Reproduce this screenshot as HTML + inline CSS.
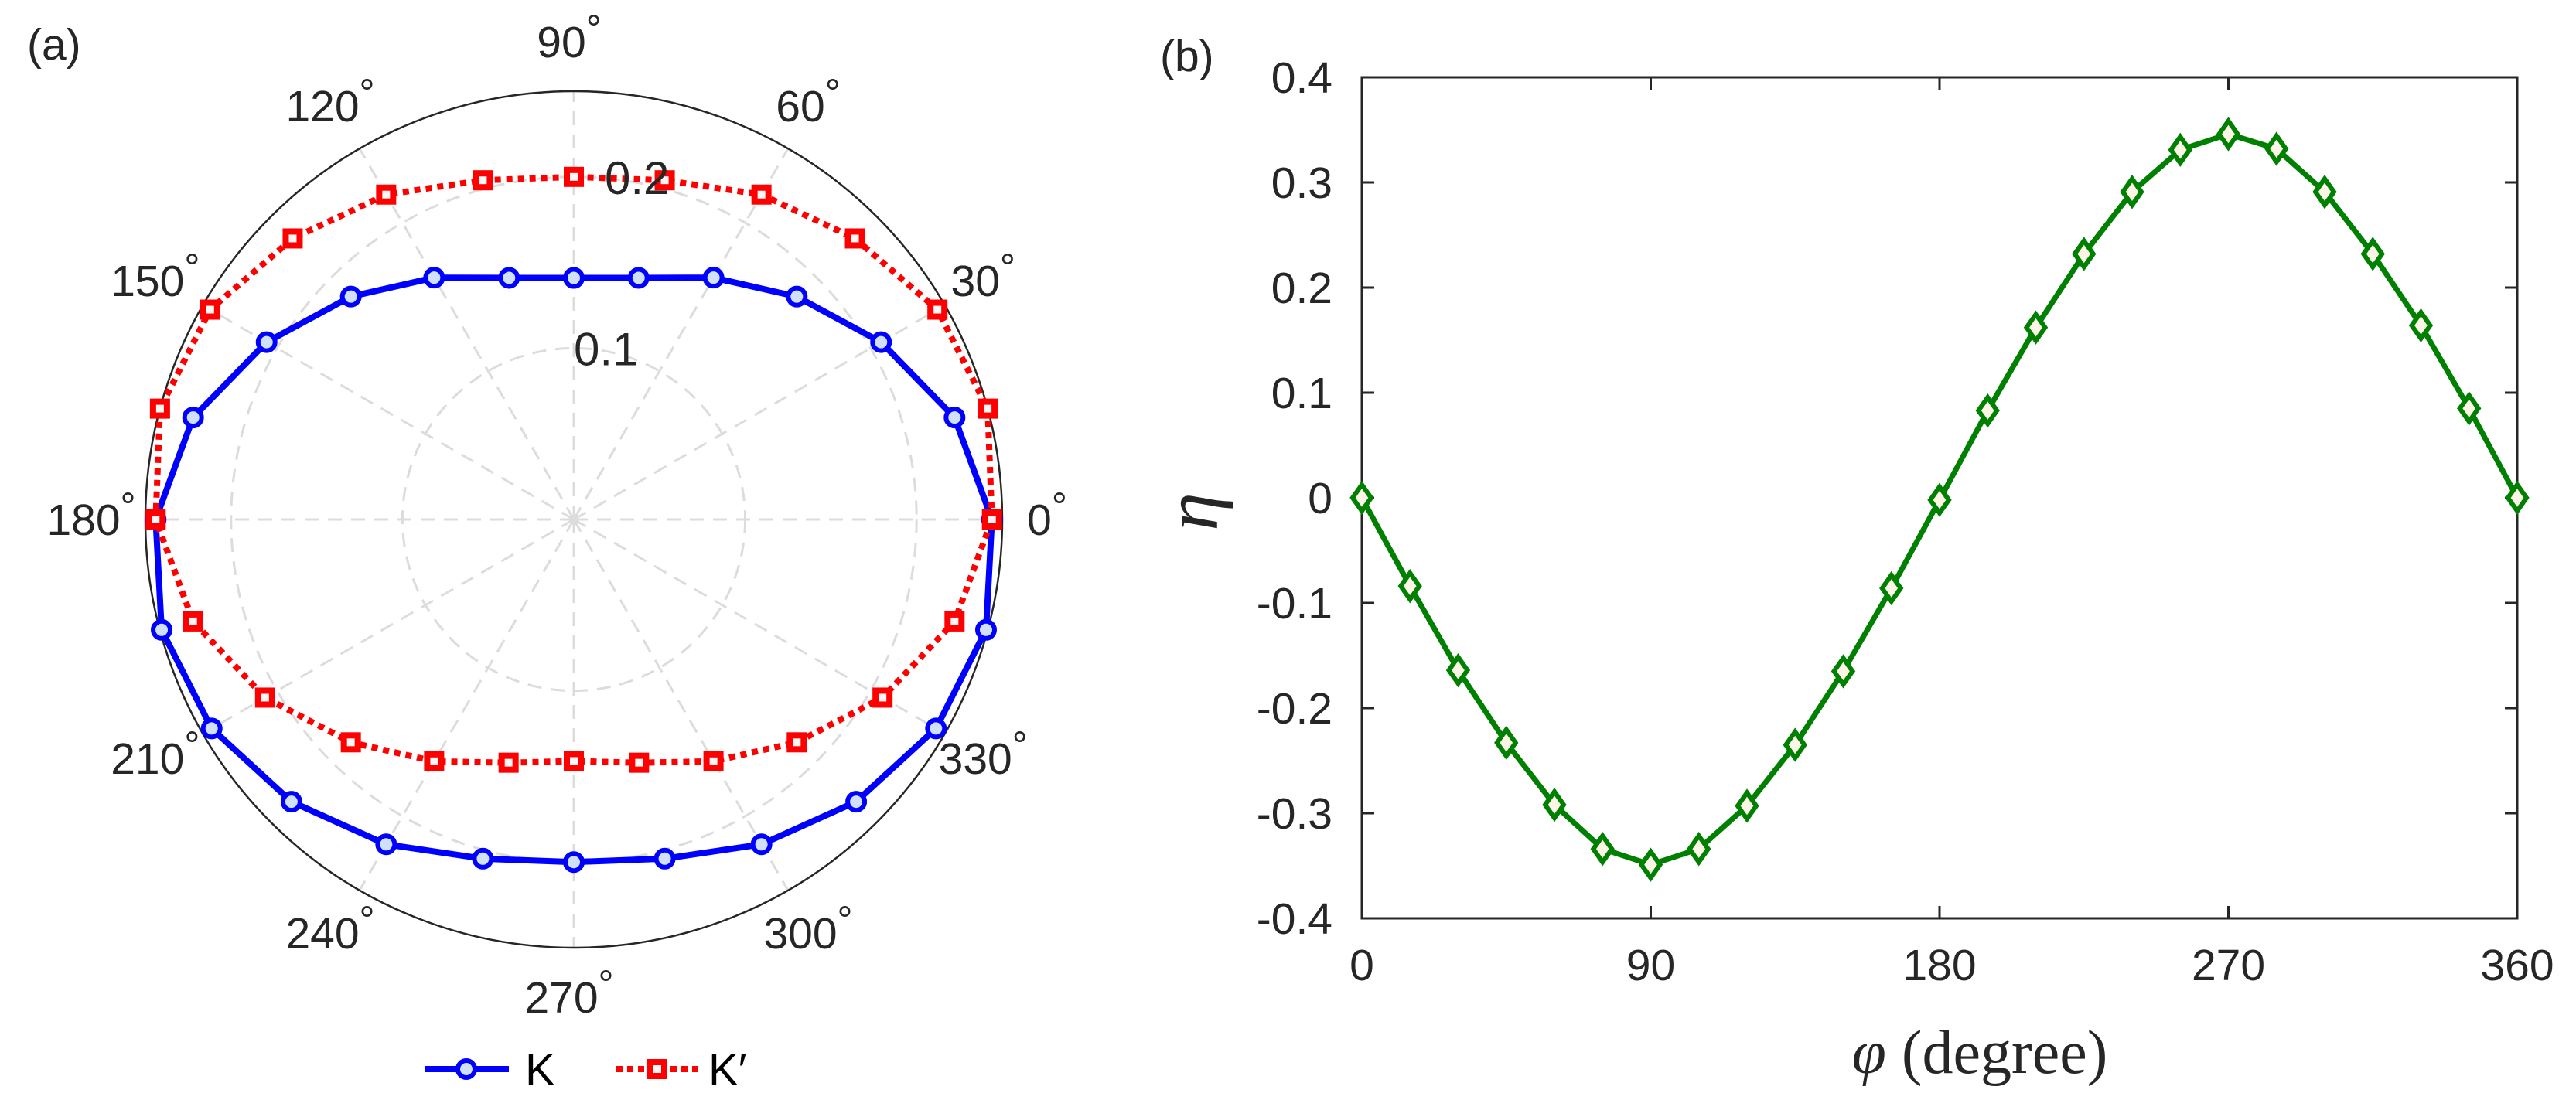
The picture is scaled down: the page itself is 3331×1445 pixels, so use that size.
<!DOCTYPE html>
<html><head><meta charset="utf-8">
<style>
html,body{margin:0;padding:0;background:#fff;}
svg{display:block;}
text{font-family:"Liberation Sans",sans-serif;fill:#262626;}
</style></head>
<body>
<svg id="fig" width="3331" height="1445" viewBox="0 0 3331 1445" xmlns="http://www.w3.org/2000/svg">
  <g id="polar"></g>
  <g id="cart"></g>
</svg>
<script>
// ---- data ----
const polarAngles = [0,15,30,45,60,75,90,105,120,135,150,165,180,195,210,225,240,255,270,285,300,315,330,345,360];
const kValues  = [0.244,0.230,0.207,0.184,0.163,0.146,0.141,0.146,0.163,0.184,0.207,0.230,0.244,0.249,0.244,0.233,0.219,0.205,0.200,0.205,0.219,0.233,0.244,0.249,0.244];
const kpValues = [0.244,0.250,0.245,0.232,0.219,0.205,0.200,0.205,0.219,0.232,0.245,0.250,0.244,0.230,0.208,0.184,0.163,0.147,0.141,0.147,0.163,0.184,0.208,0.230,0.244];
const ringTicks = [0.1,0.2];
const ringLabels = ["0.1","0.2"];
const spokeAngles = [0,30,60,90,120,150,180,210,240,270,300,330];
const spokeLabels = ["0","30","60","90","120","150","180","210","240","270","300","330"];
const phiValues = [0,15,30,45,60,75,90,105,120,135,150,165,180,195,210,225,240,255,270,285,300,315,330,345,360];
const etaValues = [0,-0.084,-0.164,-0.233,-0.292,-0.334,-0.349,-0.334,-0.293,-0.235,-0.165,-0.086,-0.002,0.083,0.162,0.232,0.291,0.331,0.346,0.332,0.291,0.232,0.164,0.085,0];
const xTicks = [0,90,180,270,360];
const xTickLabels = ["0","90","180","270","360"];
const yTicks = [-0.4,-0.3,-0.2,-0.1,0,0.1,0.2,0.3,0.4];
const yTickLabels = ["-0.4","-0.3","-0.2","-0.1","0","0.1","0.2","0.3","0.4"];

const NS = "http://www.w3.org/2000/svg";
function mk(tag, parent, attrs){
  const e = document.createElementNS(NS, tag);
  for (const k in attrs) e.setAttribute(k, attrs[k]);
  parent.appendChild(e);
  return e;
}

// ---- polar ----
const P = document.getElementById('polar');
const cx = 742, cy = 672, R = 554, rMax = 0.25;
const rs = v => v / rMax * R;
const px = (a, v) => cx + rs(v) * Math.cos(a * Math.PI / 180);
const py = (a, v) => cy - rs(v) * Math.sin(a * Math.PI / 180);

spokeAngles.forEach(a => {
  const l = mk('line', P, {x1:cx, y1:cy, x2:px(a,rMax), y2:py(a,rMax), stroke:'#dcdcdc', 'stroke-width':3, 'stroke-dasharray':'18,12'});
  
  
});
ringTicks.forEach((v, i) => {
  const c = mk('circle', P, {cx:cx, cy:cy, r:rs(v), fill:'none', stroke:'#dcdcdc', 'stroke-width':3, 'stroke-dasharray':'18,12'});
  
  
});
const outer = mk('circle', P, {cx:cx, cy:cy, r:R, fill:'none', stroke:'#262626', 'stroke-width':2.5});



spokeLabels.forEach((s, i) => {
  const a = spokeAngles[i];
  const lr = 618;
  const t = mk('text', P, {x:cx + lr*Math.cos(a*Math.PI/180) - 6, y:cy - lr*Math.sin(a*Math.PI/180) + 20, 'font-size':57, 'text-anchor':'middle'});
  
  
  t.textContent = s;
  const d = mk('tspan', t, {'font-size':50, dy:-20});
  d.textContent = '°';
});

function polarSeries(vals, color, width, dash, name){
  const pts = polarAngles.map((a,i) => px(a, vals[i]).toFixed(1) + ',' + py(a, vals[i]).toFixed(1)).join(' ');
  const attrs = {points:pts, fill:'none', stroke:color, 'stroke-width':width, 'stroke-linejoin':'round'};
  if (dash) attrs['stroke-dasharray'] = dash;
  const pl = mk('polyline', P, attrs);
  
  
}
polarSeries(kValues, '#0000ff', 8, null, 'k');
polarSeries(kpValues, '#ff0000', 8, '8,7', 'k-prime');

polarAngles.slice(0, 24).forEach((a, i) => {
  const c = mk('circle', P, {cx:px(a,kValues[i]), cy:py(a,kValues[i]), r:11, fill:'#cfe0f7', stroke:'#0000ff', 'stroke-width':6});
  
  
});
polarAngles.slice(0, 24).forEach((a, i) => {
  const x = px(a,kpValues[i]), y = py(a,kpValues[i]);
  const s = mk('rect', P, {x:x-9, y:y-9, width:18, height:18, fill:'#faf6f6', stroke:'#ff0000', 'stroke-width':8});
  
  
});

ringLabels.forEach((s, i) => {
  const v = ringTicks[i];
  const t = mk('text', P, {x:cx + i*40, y:cy - rs(v) + 22, 'font-size':60});
  
  
  t.textContent = s;
});
</script>
<script>
// legend + panel labels
(function(){
  const P = document.getElementById('polar');
  const g = mk('g', P, {});
  
  
  const l1 = mk('line', g, {x1:549, y1:1383, x2:658, y2:1383, stroke:'#0000ff', 'stroke-width':8});
  
  
  const c1 = mk('circle', g, {cx:603, cy:1383, r:11, fill:'#cfe0f7', stroke:'#0000ff', 'stroke-width':6});
  
  
  const t1 = mk('text', g, {x:679, y:1404, 'font-size':58, style:'fill:#000'});
  
  
  t1.textContent = 'K';
  const l2 = mk('line', g, {x1:797, y1:1383, x2:903, y2:1383, stroke:'#ff0000', 'stroke-width':8, 'stroke-dasharray':'8,6'});
  
  
  const s2 = mk('rect', g, {x:841, y:1374, width:18, height:18, fill:'#faf6f6', stroke:'#ff0000', 'stroke-width':8});
  
  
  const t2 = mk('text', g, {x:916, y:1404, 'font-size':58, style:'fill:#000'});
  
  
  t2.textContent = 'K′';
  const ta = mk('text', P, {x:35, y:77, 'font-size':57});
  
  
  ta.textContent = '(a)';
})();

// ---- cartesian ----
(function(){
  const C = document.getElementById('cart');
  const L = 1761, Rr = 3255, T = 100, B = 1188;
  const xs = v => L + (v - 0) / 360 * (Rr - L);
  const ys = v => B - (v + 0.4) / 0.8 * (B - T);
  const box = mk('rect', C, {x:L, y:T, width:Rr-L, height:B-T, fill:'none', stroke:'#262626', 'stroke-width':3});
  
  
  xTicks.forEach((v, i) => {
    const x = xs(v);
    const a = mk('line', C, {x1:x, y1:B, x2:x, y2:B-16, stroke:'#262626', 'stroke-width':3});
    
    
    const b = mk('line', C, {x1:x, y1:T, x2:x, y2:T+16, stroke:'#262626', 'stroke-width':3});
    
    
    const t = mk('text', C, {x:x, y:1268, 'font-size':57, 'text-anchor':'middle'});
    
    
    t.textContent = xTickLabels[i];
  });
  yTicks.forEach((v, i) => {
    const y = ys(v);
    const a = mk('line', C, {x1:L, y1:y, x2:L+16, y2:y, stroke:'#262626', 'stroke-width':3});
    
    
    const b = mk('line', C, {x1:Rr, y1:y, x2:Rr-16, y2:y, stroke:'#262626', 'stroke-width':3});
    
    
    const t = mk('text', C, {x:1723, y:y+20, 'font-size':57, 'text-anchor':'end'});
    
    
    t.textContent = yTickLabels[i];
  });
  const pts = phiValues.map((p,i) => xs(p).toFixed(1) + ',' + ys(etaValues[i]).toFixed(1)).join(' ');
  const line = mk('polyline', C, {points:pts, fill:'none', stroke:'#008000', 'stroke-width':7, 'stroke-linejoin':'round'});
  
  
  phiValues.forEach((p, i) => {
    const x = xs(p), y = ys(etaValues[i]);
    const d = mk('polygon', C, {points:`${x},${y-17} ${x+12},${y} ${x},${y+17} ${x-12},${y}`, fill:'#fdf5e6', stroke:'#008000', 'stroke-width':6});
    
    
  });
  const xl = mk('text', C, {x:2560, y:1388, 'font-size':80, 'text-anchor':'middle', style:'font-family:"Liberation Serif",serif'});
  
  
  const ph = mk('tspan', xl, {'font-style':'italic'});
  ph.textContent = 'φ';
  const rest = mk('tspan', xl, {});
  rest.textContent = ' (degree)';
  const yl = mk('text', C, {x:0, y:0, 'font-size':100, 'text-anchor':'middle', 'font-style':'italic', transform:'translate(1574,662) rotate(-90)', style:'font-family:"Liberation Serif",serif'});
  
  
  yl.textContent = 'η';
  const tb = mk('text', C, {x:1500, y:92, 'font-size':57});
  
  
  tb.textContent = '(b)';
})();
</script>
</body></html>
